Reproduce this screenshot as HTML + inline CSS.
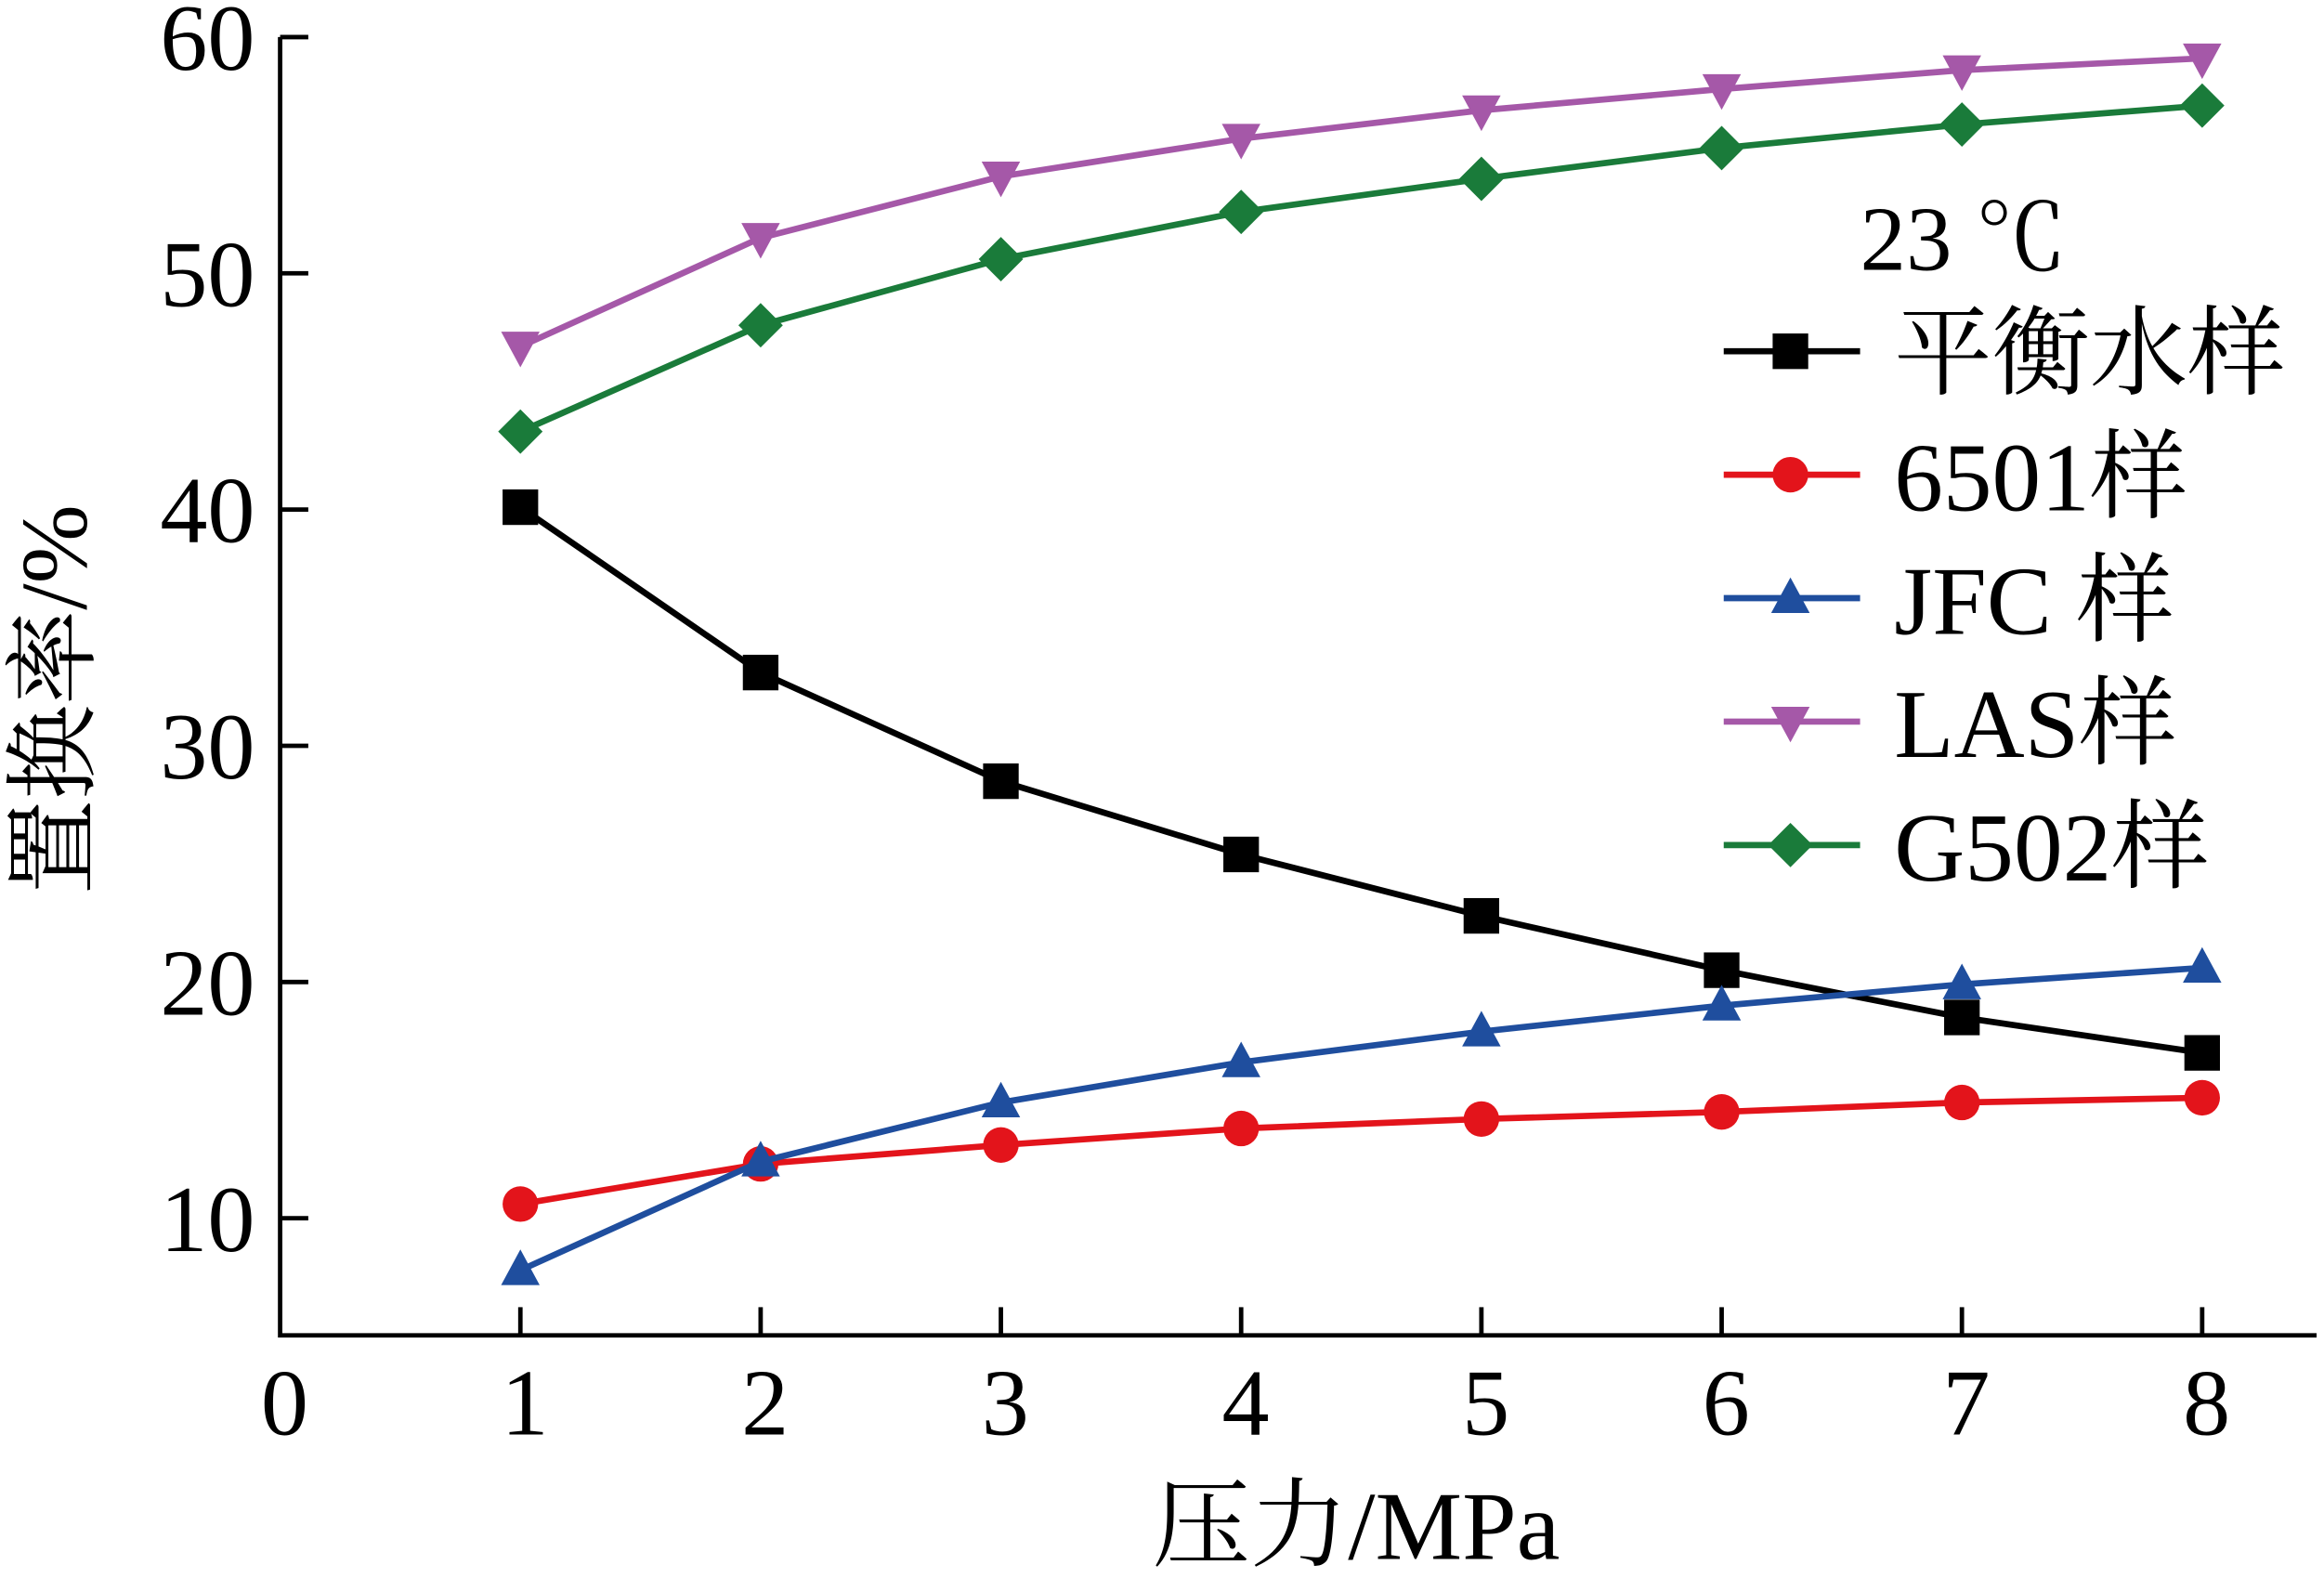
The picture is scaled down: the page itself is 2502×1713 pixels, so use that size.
<!DOCTYPE html>
<html><head><meta charset="utf-8"><style>html,body{margin:0;padding:0;background:#fff}svg{display:block}text{font-family:"Liberation Serif","Noto Serif CJK SC",serif;fill:#000}</style></head>
<body>
<svg id="chart" width="2502" height="1713" viewBox="0 0 1568 1073.5" xmlns="http://www.w3.org/2000/svg"></svg>
<script>
const xCats=[1,2,3,4,5,6,7,8];
const xTicks=[0,1,2,3,4,5,6,7,8];
const yTicks=[10,20,30,40,50,60];
const sBalance=[40.1,33.1,28.5,25.4,22.8,20.5,18.5,17.0];
const s6501=[10.6,12.3,13.1,13.8,14.2,14.5,14.9,15.1];
const sJFC=[7.8,12.4,14.9,16.6,17.9,19.0,19.9,20.6];
const sLAS=[46.9,51.5,54.1,55.7,56.9,57.8,58.6,59.1];
const sG502=[43.3,47.8,50.6,52.6,54.0,55.3,56.3,57.1];
const namesLatin=["","6501","JFC ","LAS","G502"];
const namesCJK=["平衡水样","样","样","样","样"];
const NS="http://www.w3.org/2000/svg";
const FF='"Liberation Serif","Noto Serif CJK SC",serif';
const svg=document.getElementById('chart');
const X=v=>189+v*162.1;
const Y=v=>25+(60-v)*15.94;
function el(t,a,p){const e=document.createElementNS(NS,t);for(const k in a)e.setAttribute(k,a[k]);if(t==='text')e.setAttribute('font-family',FF);(p||svg).appendChild(e);return e;}
const ax=el('path',{d:`M189,25 V901 H1563`,stroke:'#000','stroke-width':3,fill:'none'});


yTicks.forEach(v=>{
 const l=el('line',{x1:189,x2:208,y1:Y(v),y2:Y(v),stroke:'#000','stroke-width':3});
 
 
 const t=el('text',{x:172,y:Y(v)+22,'text-anchor':'end','font-size':64});t.textContent=v;
 
 
});
xTicks.forEach(v=>{
 if(v>0){const l=el('line',{x1:X(v),x2:X(v),y1:901,y2:882,stroke:'#000','stroke-width':3});
 
 }
 const t=el('text',{x:X(v)+3,y:968,'text-anchor':'middle','font-size':64});t.textContent=v;
 
 
});
const xt=el('text',{x:915,y:1052,'text-anchor':'middle','font-size':66});xt.textContent='压力/MPa';


const yt=el('text',{x:0,y:0,'text-anchor':'middle','font-size':64,transform:'translate(58,472) rotate(-90)'});yt.textContent='置换率/%';


function marker(type,x,y,c,g){
 let e;
 if(type==='sq')e=el('rect',{x:x-12,y:y-12,width:24,height:24,fill:c},g);
 else if(type==='ci')e=el('circle',{cx:x,cy:y,r:12,fill:c},g);
 else if(type==='tu')e=el('polygon',{points:`${x},${y-14} ${x+13},${y+10} ${x-13},${y+10}`,fill:c},g);
 else if(type==='td')e=el('polygon',{points:`${x},${y+14} ${x+13},${y-10} ${x-13},${y-10}`,fill:c},g);
 else e=el('polygon',{points:`${x},${y-15} ${x+15},${y} ${x},${y+15} ${x-15},${y}`,fill:c},g);
 
 
}
const series=[[sBalance,'#000','sq'],[s6501,'#e3141b','ci'],[sJFC,'#1f4e9e','tu'],[sLAS,'#a558a8','td'],[sG502,'#1a7b3a','di']];
const slugs=['balance','6501','jfc','las','g502'];
series.forEach(([d,c,m],i)=>{
 const g=el('g',{});
 
 
 const p=el('polyline',{points:d.map((v,j)=>X(xCats[j])+','+Y(v)).join(' '),fill:'none',stroke:c,'stroke-width':4.2},g);
 
 
 d.forEach((v,j)=>marker(m,X(xCats[j]),Y(v),c,g));
 const ly=237+i*83.3;
 const lg=el('g',{});
 
 
 el('line',{x1:1163,x2:1255,y1:ly,y2:ly,stroke:c,'stroke-width':4.2},lg);
 marker(m,1208,ly,c,lg);
 const t=el('text',{x:1278,y:ly+24,'font-size':66},lg);
 if(namesLatin[i]){const a=document.createElementNS(NS,'tspan');a.setAttribute('font-family','"Liberation Serif",serif');a.textContent=namesLatin[i];t.appendChild(a);}
 const b=document.createElementNS(NS,'tspan');b.setAttribute('font-family','"Noto Serif CJK SC",serif');b.textContent=namesCJK[i];t.appendChild(b);
});
const tt=el('text',{x:1255,y:182,'font-size':62});tt.textContent='23 ℃';


</script>
</body></html>
